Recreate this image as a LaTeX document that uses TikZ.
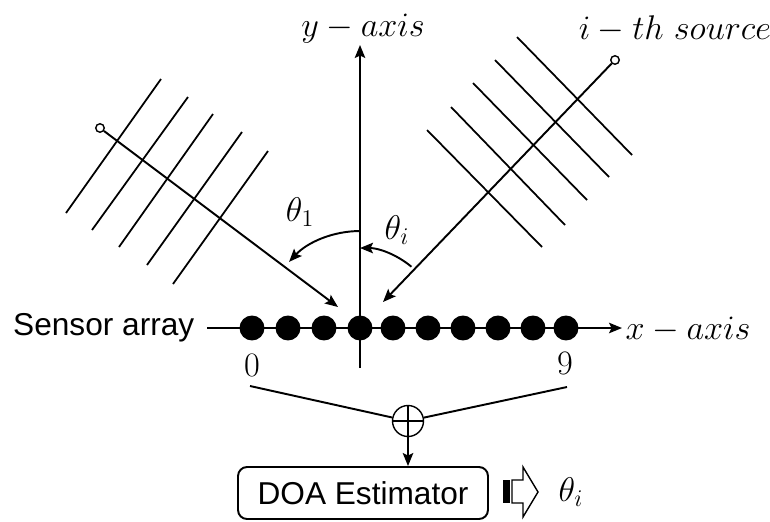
\RequirePackage{fix-cm}
\documentclass[tikz,border=0pt]{standalone}
\usepackage{fontspec}
\setsansfont{Liberation Sans}
\usepackage{tikz}
\usetikzlibrary{arrows.meta}
\tikzset{
  sensor/.style={
    circle,
    draw,
    fill=black,
    minimum size=0.46cm,
    inner sep=0pt
  },
  source/.style={
    circle,
    draw,
    fill=white,
    line width=0.8pt,
    minimum size=0.17cm,
    inner sep=0pt
  },
  mathtext/.style={font=\fontsize{19.5}{23}\selectfont, inner sep=1pt},
  sanstext/.style={font=\sffamily\fontsize{18}{21}\selectfont, inner sep=1pt},
  estimator/.style={
    draw,
    rounded corners=0.18cm,
    minimum width=5cm,
    minimum height=1.04cm,
    font=\sffamily\fontsize{18}{21}\selectfont
  },
  summer/.style={
    circle,
    draw,
    line width=0.8pt,
    minimum size=0.62cm,
    inner sep=0pt
  },
  wave/.style={line width=1pt}
}

\begin{document}
\begin{tikzpicture}[x=0.02cm, y=-0.02cm, line width=1.1pt,
  >={Stealth[length=2.6mm, width=2.1mm, inset=0.5mm]}]
  \useasboundingbox (0,0) rectangle (770,521);
  % Node placement
  \coordinate (O) at (360,328);
  \coordinate (xstart) at (207,328);
  \coordinate (xend) at (622,328);
  \coordinate (ystart) at (360,368);
  \coordinate (yend) at (360,45);
  \coordinate (hit1) at (338,307);
  \coordinate (hiti) at (383,302);
  \coordinate (from0) at (250,386);
  \coordinate (from9) at (567,387);

  % Axes
  \draw[->] (xstart) -- (xend);
  \draw[->] (ystart) -- (yend);

  \node [sensor] (S0) at (252,328) {};
  \node [sensor] (S1) at (288,328) {};
  \node [sensor] (S2) at (324,328) {};
  \node [sensor] (S3) at (360,328) {};
  \node [sensor] (S4) at (393,328) {};
  \node [sensor] (S5) at (428,328) {};
  \node [sensor] (S6) at (463,328) {};
  \node [sensor] (S7) at (498,328) {};
  \node [sensor] (S8) at (533,328) {};
  \node [sensor] (S9) at (566,328) {};

  \node [source] (src1) at (100,128) {};
  \node [source] (srci) at (615,60) {};

  \node [mathtext] (yax) at (363,29) {$y-axis$};
  \node [mathtext] (xax) at (688,330) {$x-axis$};
  \node [mathtext] (srclab) at (675,29) {$i-th\ source$};
  \node [sanstext, anchor=east] (arr) at (197,328) {Sensor array};
  \node [mathtext] (lab0) at (252,365) {$0$};
  \node [mathtext] (lab9) at (565,363) {$9$};
  \node [mathtext] (th1) at (300,212) {$\theta_1$};
  \node [mathtext] (thi) at (397,230) {$\theta_i$};
  \node [summer] (sum) at (408,421) {};
  \node [estimator] (doa) at (363,493) {DOA Estimator};
  \node [mathtext] (thout) at (571,492) {$\theta_i$};

  % Wave fronts
  \draw[wave] (66,213) -- (161,79);
  \draw[wave] (92,230) -- (188,97);
  \draw[wave] (119,247) -- (213,114);
  \draw[wave] (147,265) -- (242,132);
  \draw[wave] (173,284) -- (268,151);
  \draw[wave] (517,37) -- (632,155);
  \draw[wave] (495,60) -- (609,177);
  \draw[wave] (473,83) -- (587,200);
  \draw[wave] (451,107) -- (565,225);
  \draw[wave] (427,130) -- (542,247);

  % Arrows
  \draw[->] (src1) -- (hit1);
  \draw[->] (srci) -- (hiti);
  \draw[->] ([shift={(90:1.94cm)}]O) arc[start angle=90, end angle=137, radius=1.94cm];
  \draw[->] ([shift={(50:1.6cm)}]O) arc[start angle=50, end angle=90, radius=1.6cm];
  \draw (from0) -- (sum);
  \draw (from9) -- (sum);
  \draw[line width=0.8pt] (sum.north) -- (sum.south);
  \draw[line width=0.8pt] (sum.west) -- (sum.east);
  \draw[->] (sum.south) -- (sum.south |- doa.north);

  % Output arrow
  \fill (503,480) rectangle (510,503);
  \draw[line width=0.8pt] (512,480) -- (523,480) -- (523,467) -- (538,492)
    -- (523,517) -- (523,503) -- (512,503) -- cycle;
\end{tikzpicture}
\end{document}
